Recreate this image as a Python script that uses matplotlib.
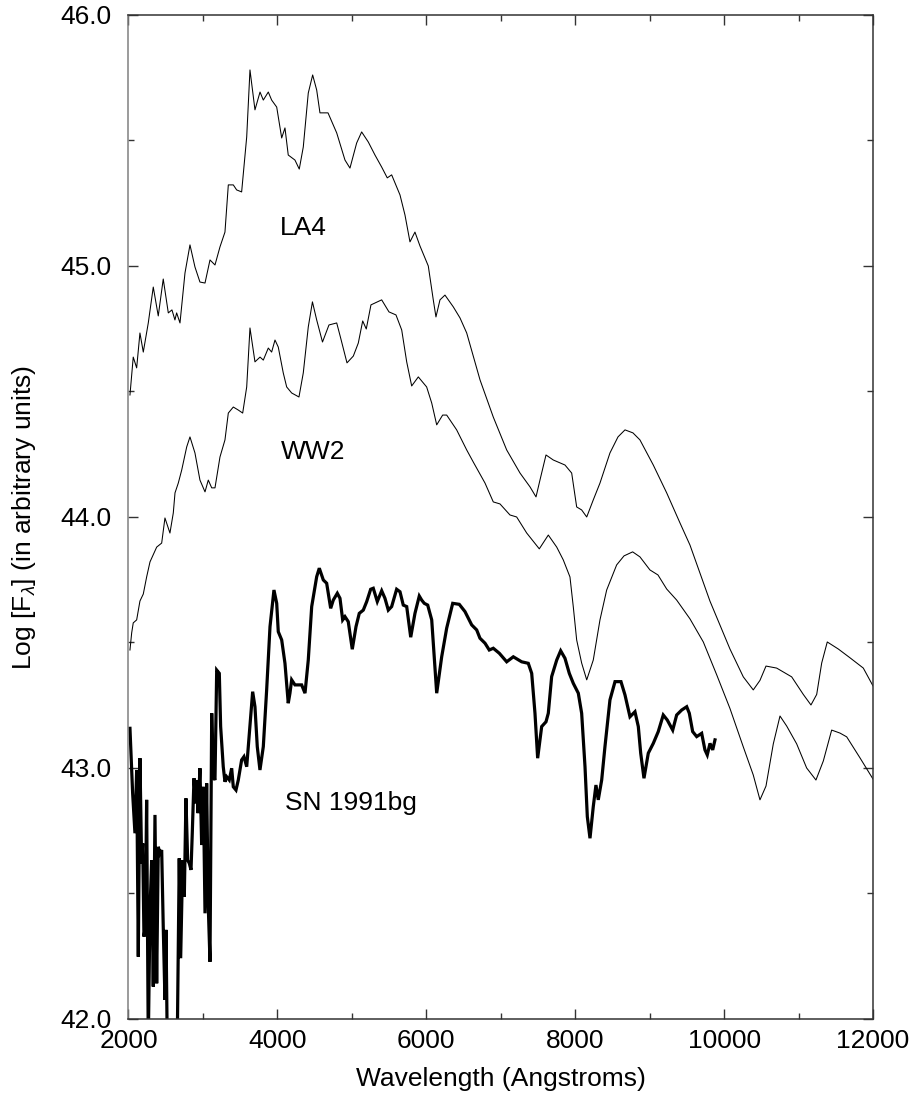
import numpy as np
import matplotlib.pyplot as plt
from matplotlib.ticker import MultipleLocator, FormatStrFormatter

plt.rcParams['font.family'] = ['Liberation Sans', 'DejaVu Sans']
plt.rcParams['mathtext.fontset'] = 'custom'
plt.rcParams['mathtext.rm'] = 'Liberation Sans'
plt.rcParams['mathtext.it'] = 'Liberation Sans:italic'

# model LA4 (log flux vs wavelength in Angstroms)
la4_wave = [2020, 2064, 2110, 2154, 2199, 2266, 2333, 2400, 2467, 2535, 2584, 2624, 2647, 2692,
            2759, 2826, 2893, 2960, 3028, 3095, 3162, 3229, 3296, 3341, 3408, 3453, 3520, 3588,
            3632, 3699, 3767, 3811, 3878, 3923, 3991, 4058, 4102, 4146, 4236, 4294, 4348, 4415,
            4474, 4528, 4572, 4680, 4797, 4908, 4975, 5065, 5132, 5221, 5311, 5401, 5476, 5535,
            5647, 5714, 5781, 5848, 5915, 6027, 6094, 6130, 6184, 6251, 6363, 6453, 6543, 6722,
            6900, 7080, 7259, 7393, 7474, 7527, 7608, 7706, 7863, 7953, 8020, 8087, 8155, 8243,
            8333, 8467, 8575, 8669, 8776, 8870, 9049, 9229, 9408, 9542, 9810, 10079, 10258,
            10392, 10482, 10563, 10706, 10908, 11064, 11167, 11244, 11311, 11386, 11534, 11691,
            11870, 12000]
la4_flux = [44.486, 44.637, 44.594, 44.733, 44.657, 44.773, 44.916, 44.801, 44.948, 44.813,
            44.825, 44.785, 44.813, 44.773, 44.972, 45.084, 44.996, 44.936, 44.932, 45.024,
            45.004, 45.076, 45.135, 45.323, 45.323, 45.303, 45.295, 45.514, 45.781, 45.622,
            45.693, 45.661, 45.693, 45.661, 45.633, 45.510, 45.550, 45.442, 45.422, 45.386,
            45.474, 45.689, 45.761, 45.701, 45.610, 45.610, 45.530, 45.422, 45.390, 45.490,
            45.534, 45.494, 45.442, 45.394, 45.351, 45.363, 45.283, 45.203, 45.096, 45.135,
            45.080, 45.000, 44.865, 44.797, 44.865, 44.884, 44.837, 44.793, 44.733, 44.546,
            44.398, 44.267, 44.175, 44.120, 44.080, 44.147, 44.247, 44.227, 44.207, 44.175,
            44.040, 44.028, 44.000, 44.068, 44.135, 44.255, 44.319, 44.347, 44.335, 44.307,
            44.207, 44.096, 43.976, 43.888, 43.665, 43.474, 43.363, 43.311, 43.349, 43.406,
            43.398, 43.363, 43.293, 43.251, 43.293, 43.418, 43.502, 43.474, 43.439, 43.398,
            43.327]

# model WW2
ww2_wave = [2020, 2043, 2064, 2110, 2154, 2199, 2244, 2289, 2379, 2446, 2490, 2557, 2602, 2625,
            2669, 2715, 2782, 2826, 2893, 2960, 3028, 3072, 3118, 3162, 3229, 3296, 3341, 3408,
            3475, 3534, 3588, 3632, 3699, 3767, 3811, 3878, 3923, 3968, 4012, 4079, 4125, 4192,
            4290, 4348, 4415, 4471, 4528, 4606, 4693, 4797, 4850, 4935, 5020, 5087, 5146, 5194,
            5257, 5401, 5499, 5593, 5670, 5737, 5804, 5893, 6005, 6073, 6140, 6220, 6274, 6408,
            6543, 6631, 6789, 6900, 6990, 7124, 7214, 7349, 7518, 7639, 7752, 7840, 7930, 7975,
            8020, 8087, 8155, 8243, 8333, 8423, 8557, 8656, 8772, 8870, 9004, 9112, 9229, 9363,
            9542, 9721, 9901, 10079, 10258, 10392, 10482, 10563, 10661, 10751, 10841, 10975,
            11109, 11234, 11333, 11445, 11557, 11647, 11826, 12000]
ww2_flux = [43.470, 43.538, 43.578, 43.590, 43.665, 43.693, 43.761, 43.821, 43.880, 43.896,
            43.996, 43.936, 44.016, 44.096, 44.135, 44.187, 44.279, 44.319, 44.255, 44.147,
            44.100, 44.147, 44.116, 44.116, 44.239, 44.307, 44.414, 44.438, 44.426, 44.414,
            44.518, 44.753, 44.618, 44.637, 44.625, 44.673, 44.657, 44.705, 44.677, 44.574,
            44.518, 44.494, 44.478, 44.574, 44.757, 44.857, 44.785, 44.697, 44.765, 44.773,
            44.713, 44.614, 44.641, 44.693, 44.781, 44.749, 44.845, 44.865, 44.817, 44.805,
            44.745, 44.618, 44.522, 44.558, 44.518, 44.454, 44.367, 44.406, 44.406, 44.347,
            44.267, 44.219, 44.135, 44.060, 44.052, 44.008, 44.000, 43.936, 43.873, 43.928,
            43.880, 43.829, 43.761, 43.641, 43.510, 43.418, 43.351, 43.430, 43.590, 43.709,
            43.809, 43.845, 43.861, 43.841, 43.789, 43.769, 43.713, 43.669, 43.594, 43.502,
            43.371, 43.237, 43.084, 42.972, 42.873, 42.928, 43.096, 43.207, 43.167, 43.096,
            43.000, 42.952, 43.028, 43.151, 43.139, 43.124, 43.040, 42.956]

# observed SN 1991bg
sn_wave = [2020, 2056, 2087, 2110, 2132, 2154, 2177, 2191, 2208, 2226, 2244, 2266, 2289, 2312,
           2333, 2356, 2379, 2400, 2423, 2446, 2467, 2490, 2504, 2521, 2584, 2655, 2682, 2701,
           2728, 2750, 2772, 2795, 2817, 2840, 2857, 2880, 2903, 2916, 2934, 2960, 2983, 3005,
           3028, 3050, 3072, 3095, 3118, 3139, 3162, 3185, 3220, 3238, 3273, 3296, 3319, 3354,
           3386, 3408, 3444, 3475, 3520, 3551, 3588, 3623, 3668, 3699, 3730, 3766, 3811, 3856,
           3901, 3954, 3991, 4012, 4058, 4102, 4146, 4169, 4192, 4236, 4326, 4371, 4415, 4461,
           4528, 4563, 4617, 4662, 4716, 4751, 4805, 4841, 4877, 4908, 4952, 5006, 5056, 5100,
           5154, 5200, 5253, 5288, 5342, 5401, 5445, 5490, 5535, 5602, 5647, 5691, 5737, 5791,
           5848, 5906, 5938, 5973, 6019, 6073, 6140, 6207, 6274, 6355, 6443, 6520, 6610, 6677,
           6721, 6789, 6846, 6900, 6981, 7080, 7169, 7281, 7370, 7416, 7460, 7496, 7550, 7608,
           7639, 7684, 7752, 7805, 7863, 7921, 7975, 8042, 8087, 8132, 8163, 8199, 8243, 8279,
           8310, 8356, 8400, 8467, 8535, 8615, 8669, 8736, 8803, 8848, 8880, 8924, 8982, 9049,
           9116, 9183, 9237, 9310, 9363, 9431, 9498, 9533, 9578, 9632, 9699, 9743, 9774, 9811,
           9847, 9878]
sn_flux = [43.158, 42.899, 42.740, 42.992, 42.248, 43.039, 42.620, 42.700, 42.328, 42.368,
           42.873, 41.900, 42.434, 42.633, 42.129, 42.813, 42.142, 42.686, 42.660, 42.673,
           42.368, 42.076, 42.355, 41.900, 41.850, 41.900, 42.640, 42.242, 42.633, 42.487,
           42.879, 42.633, 42.620, 42.594, 42.740, 42.959, 42.859, 42.952, 42.820, 42.999,
           42.693, 42.925, 42.421, 42.939, 42.447, 42.228, 43.218, 42.965, 42.952, 43.390,
           43.377, 43.165, 43.005, 42.945, 42.965, 42.952, 42.999, 42.925, 42.912, 42.952,
           43.032, 43.045, 43.005, 43.138, 43.304, 43.244, 43.085, 42.992, 43.085, 43.311,
           43.563, 43.709, 43.656, 43.543, 43.510, 43.417, 43.258, 43.298, 43.351, 43.331,
           43.331, 43.298, 43.430, 43.643, 43.762, 43.796, 43.749, 43.736, 43.636, 43.669,
           43.696, 43.676, 43.590, 43.603, 43.583, 43.473, 43.563, 43.616, 43.629, 43.663,
           43.712, 43.716, 43.663, 43.706, 43.676, 43.629, 43.643, 43.712, 43.702, 43.649,
           43.643, 43.521, 43.616, 43.685, 43.669, 43.656, 43.649, 43.590, 43.298, 43.443,
           43.557, 43.656, 43.652, 43.623, 43.570, 43.550, 43.517, 43.497, 43.470, 43.477,
           43.457, 43.423, 43.443, 43.423, 43.417, 43.377, 43.218, 43.039, 43.165, 43.184,
           43.218, 43.364, 43.430, 43.467, 43.437, 43.377, 43.337, 43.298, 43.218, 43.005,
           42.806, 42.720, 42.846, 42.932, 42.873, 42.952, 43.085, 43.271, 43.344, 43.344,
           43.291, 43.204, 43.224, 43.165, 43.059, 42.959, 43.059, 43.098, 43.145, 43.211,
           43.191, 43.151, 43.211, 43.231, 43.244, 43.218, 43.145, 43.125, 43.138, 43.072,
           43.052, 43.098, 43.072, 43.112]

labels = ['LA4', 'WW2', 'SN 1991bg']
label_pos = [(4040, 45.15), (4048, 44.26), (4102, 42.86)]

fig = plt.figure(figsize=(9.17, 11.01), dpi=100)
ax = fig.add_axes([0.1401, 0.0745, 0.8119, 0.9119])

ax.plot(la4_wave, la4_flux, color='black', linewidth=0.75, solid_joinstyle='round')
ax.plot(ww2_wave, ww2_flux, color='black', linewidth=0.75, solid_joinstyle='round')
ax.plot(sn_wave, sn_flux, color='black', linewidth=2.3, solid_joinstyle='miter')

for txt, (x, y) in zip(labels, label_pos):
    ax.text(x, y, txt, fontsize=19, ha='left', va='center')

ax.set_xlim(2000, 12000)
ax.set_ylim(42.0, 46.0)
ax.xaxis.set_major_locator(MultipleLocator(2000))
ax.xaxis.set_minor_locator(MultipleLocator(1000))
ax.yaxis.set_major_locator(MultipleLocator(1.0))
ax.yaxis.set_minor_locator(MultipleLocator(0.5))
ax.yaxis.set_major_formatter(FormatStrFormatter('%.1f'))

ax.tick_params(which='both', direction='in', top=True, right=True, labelsize=19,
               color='#333333')
ax.tick_params(which='major', length=7, width=1.0)
ax.tick_params(which='minor', length=4.5, width=1.0)
ax.tick_params(axis='x', pad=7)
ax.tick_params(axis='y', pad=12)

for side in ['top', 'right', 'bottom']:
    ax.spines[side].set_color('#333333')
    ax.spines[side].set_linewidth(1.1)
ax.spines['left'].set_color('#808080')
ax.spines['left'].set_linewidth(1.1)

ax.set_xlabel('Wavelength (Angstroms)', fontsize=19, labelpad=10)
ax.set_ylabel(r'Log [F$_\lambda$] (in arbitrary units)', fontsize=19, labelpad=16)

fig.savefig('out.png', dpi=100)
